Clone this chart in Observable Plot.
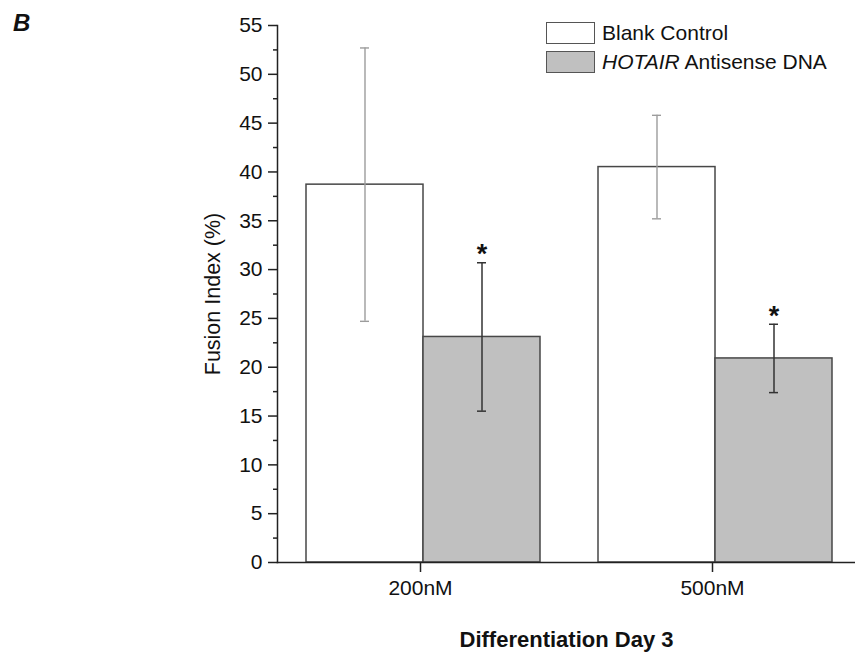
<!DOCTYPE html>
<html>
<head>
<meta charset="utf-8">
<script src="https://cdn.jsdelivr.net/npm/d3@7"></script>
<script src="https://cdn.jsdelivr.net/npm/@observablehq/plot@0.6"></script>
<style>
  body { margin: 0; background: #fff; }
  #figure { position: relative; width: 855px; height: 652px; font-family: "Liberation Sans", Arial, sans-serif; color: #111; }
  #figure svg { position: absolute; left: 0; top: 0; }
  .panel { position: absolute; left: 13px; top: 11px; font-size: 24px; line-height: 24px; font-weight: bold; font-style: italic; }
  .legend { position: absolute; left: 546px; top: 21.5px; font-size: 21px; }
  .legend .row { display: flex; align-items: center; height: 22px; margin-bottom: 7px; }
  .legend .swatch { box-sizing: border-box; width: 49px; height: 22px; border: 1.5px solid #555; margin-right: 7px; }
  g[aria-label="fx-axis label"] text { font-weight: bold; font-size: 22px; }
  g[aria-label="y-axis label"] text { font-size: 21.5px; }
</style>
</head>
<body>
<div id="figure">
  <div class="panel">B</div>
  <div class="legend"></div>
</div>
<script>
// Fusion index (%) at differentiation day 3, mean ± SD
const concentrations = ["200nM", "500nM"];
const treatments = ["Blank Control", "HOTAIR Antisense DNA"];
const meanBlank = [38.7, 40.5];
const sdBlank = [14.0, 5.3];
const meanHotair = [23.1, 20.9];
const sdHotair = [7.6, 3.5];
const sigHotair = ["*", "*"];

const treatmentFills = ["#ffffff", "#c0c0c0"];

const blankRows = concentrations.map((c, i) => ({conc: c, group: treatments[0], mean: meanBlank[i], sd: sdBlank[i], sig: ""}));
const hotairRows = concentrations.map((c, i) => ({conc: c, group: treatments[1], mean: meanHotair[i], sd: sdHotair[i], sig: sigHotair[i]}));
const rows = [...blankRows, ...hotairRows];

const lo = d => d.mean - d.sd;
const hi = d => d.mean + d.sd;

function errorBars(data, stroke, width) {
  return [
    Plot.ruleX(data, {fx: "conc", x: "group", y1: lo, y2: hi, stroke, strokeWidth: width}),
    Plot.tickY(data, {fx: "conc", x: "group", y: lo, stroke, strokeWidth: width, insetLeft: 54, insetRight: 54}),
    Plot.tickY(data, {fx: "conc", x: "group", y: hi, stroke, strokeWidth: width, insetLeft: 54, insetRight: 54})
  ];
}

const chart = Plot.plot({
  width: 855,
  height: 652,
  marginLeft: 277,
  marginRight: 0,
  marginTop: 25,
  marginBottom: 90,
  style: {fontFamily: "Liberation Sans, Arial, sans-serif", fontSize: "21px", color: "#111", background: "transparent"},
  fx: {domain: concentrations, paddingInner: 6 / 292, paddingOuter: 0},
  x: {domain: treatments, paddingInner: 0, paddingOuter: 0.2222, align: 0.5577, axis: null},
  y: {domain: [0, 55], axis: null},
  color: {domain: treatments, range: treatmentFills},
  marks: [
    Plot.barY(rows, {fx: "conc", x: "group", y: "mean", fill: "group", stroke: "#474747", strokeWidth: 1.5}),
    ...errorBars(blankRows, "#9c9c9c", 1.4),
    ...errorBars(hotairRows, "#333333", 1.5),
    Plot.text(hotairRows, {fx: "conc", x: "group", y: hi, text: "sig", dy: -8, fontSize: 27, fontWeight: "bold", fill: "#111"}),
    // major ticks with labels
    Plot.axisY({ticks: d3.range(0, 56, 5), tickSize: 9, tickPadding: 6, stroke: "#222", strokeWidth: 1.5, label: null}),
    // minor ticks
    Plot.axisY({ticks: d3.range(2.5, 55, 5), tickSize: 4, tickFormat: () => "", stroke: "#222", strokeWidth: 1.5, label: null}),
    // axis title
    Plot.axisY({ticks: [], label: "Fusion Index (%)", labelAnchor: "center", labelArrow: "none", labelOffset: 73, dy: 10}),
    Plot.axisFx({anchor: "bottom", tickSize: 10, tickPadding: 8, stroke: "#222", strokeWidth: 1.5,
      label: "Differentiation Day 3", labelAnchor: "center", labelArrow: "none", labelOffset: 84}),
    Plot.frame({anchor: "bottom", facet: "super", stroke: "#222", strokeWidth: 1.5}),
    Plot.frame({anchor: "left", facet: "super", stroke: "#222", strokeWidth: 1.5})
  ]
});

document.getElementById("figure").prepend(chart);

// Legend
const legend = d3.select(".legend");
treatments.forEach((t, i) => {
  const row = legend.append("div").attr("class", "row");
  row.append("span").attr("class", "swatch").style("background", treatmentFills[i]);
  const label = row.append("span");
  const [first, ...rest] = t.split(" ");
  if (first === "HOTAIR") {
    label.append("i").text(first);
    label.append("span").text(" " + rest.join(" "));
  } else {
    label.text(t);
  }
});
</script>
</body>
</html>
